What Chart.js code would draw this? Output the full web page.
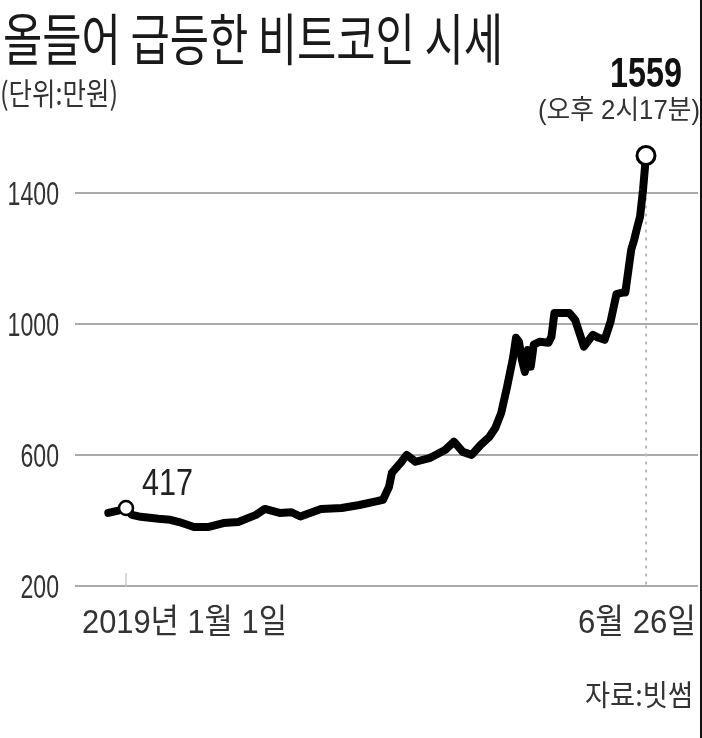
<!DOCTYPE html>
<html>
<head>
<meta charset="utf-8">
<script src="https://cdn.jsdelivr.net/npm/chart.js@4"></script>
<style>
  html, body { margin: 0; padding: 0; background: #fff; }
  #wrap { position: relative; width: 702px; height: 738px; }
  #edge { position: absolute; left: 700px; top: 0; width: 2px; height: 738px; background: #111; }
</style>
</head>
<body>
<div id="wrap">
  <canvas id="chart" width="702" height="738"></canvas>
  <div id="edge"></div>
</div>
<script>
// days counted from 2019-01-01, price in 만원
var days = [-6, -3, 0, 2, 5, 8, 11, 15, 18, 21, 23, 28, 33, 38, 44, 47, 52, 56, 59, 66,
    73, 79, 85, 87, 89, 90, 93, 95, 98, 103, 108, 111, 114, 117, 120, 123, 125, 127, 129, 131,
    132, 133, 134, 135, 136, 137, 138, 140, 143, 144, 145, 147, 150, 152, 154, 155, 158, 160, 162, 164,
    166, 168, 169, 171, 172, 173, 174, 175, 176];
var prices = [423, 429, 438, 417, 411, 408, 405, 402, 395, 386, 380, 380, 392, 395, 417, 435, 423, 425, 412, 435,
    438, 447, 459, 463, 502, 545, 576, 600, 579, 591, 615, 640, 609, 600, 630, 655, 682, 728, 808, 896,
    957, 945, 890, 853, 920, 869, 936, 945, 942, 960, 1033, 1033, 1033, 1012, 957, 930, 966, 957, 951, 1006,
    1090, 1095, 1095, 1226, 1256, 1293, 1327, 1409, 1513];

var yTicks = [200, 600, 1000, 1400];
var xTickDays = [0, 176];
var xTickLabels = ['2019년 1월 1일', '6월 26일'];
var startLabel = '417';
var endLabel = '1559';
var endNote = '(오후 2시17분)';

var title = '올들어 급등한 비트코인 시세';
var unitText = '(단위:만원)';
var sourceText = '자료:빗썸';

var LAT = '"Liberation Sans", "Noto Sans CJK KR", sans-serif';
var KR = '"Noto Sans CJK KR", sans-serif';

var points = days.map(function (d, i) { return { x: d, y: prices[i] }; });
var startIdx = days.indexOf(xTickDays[0]);
var endIdx = days.length - 1;

// draws text squeezed horizontally to a given width
function fitText(ctx, text, x, y, font, width, align, color) {
    ctx.save();
    ctx.font = font;
    ctx.fillStyle = color || '#333';
    ctx.textBaseline = 'alphabetic';
    ctx.textAlign = 'left';
    var w = ctx.measureText(text).width;
    var sx = width / w;
    ctx.translate(x, y);
    ctx.scale(sx, 1);
    var off = align === 'right' ? -w : (align === 'center' ? -w / 2 : 0);
    ctx.fillText(text, off, 0);
    ctx.restore();
}

function squeezeText(ctx, text, x, y, font, sx, align, color) {
    ctx.save();
    ctx.font = font;
    ctx.fillStyle = color || '#333';
    ctx.textBaseline = 'alphabetic';
    ctx.textAlign = align;
    ctx.translate(x, y);
    ctx.scale(sx, 1);
    ctx.fillText(text, 0, 0);
    ctx.restore();
}

var decor = {
    id: 'decor',
    beforeDatasetsDraw: function (chart) {
        var ctx = chart.ctx, xs = chart.scales.x, ys = chart.scales.y, area = chart.chartArea;
        // dotted drop line at the last point
        var ex = xs.getPixelForValue(days[endIdx]);
        var ey = ys.getPixelForValue(prices[endIdx]);
        ctx.save();
        ctx.strokeStyle = '#bbb';
        ctx.lineWidth = 2;
        ctx.setLineDash([3, 5]);
        ctx.beginPath();
        ctx.moveTo(ex, ey + 10);
        ctx.lineTo(ex, area.bottom);
        ctx.stroke();
        ctx.setLineDash([]);
        // small tick at Jan 1
        var sx = xs.getPixelForValue(xTickDays[0]);
        ctx.strokeStyle = '#ccc';
        ctx.lineWidth = 1.5;
        ctx.beginPath();
        ctx.moveTo(sx, area.bottom - 13);
        ctx.lineTo(sx, area.bottom);
        ctx.stroke();
        ctx.restore();
    },
    afterDraw: function (chart) {
        var ctx = chart.ctx, xs = chart.scales.x, ys = chart.scales.y, area = chart.chartArea;

        fitText(ctx, title, 3, 60, '400 56px ' + KR, 500, 'left', '#1a1a1a');
        fitText(ctx, unitText, 0, 105, '400 31px ' + KR, 118, 'left', '#333');

        // y tick labels
        yTicks.forEach(function (v) {
            squeezeText(ctx, String(v), area.left - 16, ys.getPixelForValue(v) + 12, '400 34px ' + LAT, 0.68, 'right', '#333');
        });

        // x labels
        var x0 = xs.getPixelForValue(xTickDays[0]);
        fitText(ctx, xTickLabels[0], x0 - 44, area.bottom + 47, '400 34px ' + LAT, 205, 'left', '#333');
        fitText(ctx, xTickLabels[1], area.right - 2, area.bottom + 47, '400 34px ' + LAT, 118, 'right', '#333');

        // point notes
        var sxp = xs.getPixelForValue(days[startIdx]);
        var syp = ys.getPixelForValue(prices[startIdx]);
        fitText(ctx, startLabel, sxp + 16, syp - 13, '400 36px ' + LAT, 51, 'left', '#222');

        var exp = xs.getPixelForValue(days[endIdx]);
        var eyp = ys.getPixelForValue(prices[endIdx]);
        fitText(ctx, endLabel, exp + 36, eyp - 69, '700 42px ' + LAT, 72, 'right', '#111');
        fitText(ctx, endNote, exp - 108, eyp - 37, '400 27px ' + LAT, 162, 'left', '#333');

        fitText(ctx, sourceText, 693, 706, '400 29px ' + KR, 108, 'right', '#333');
    }
};

var ctx = document.getElementById('chart').getContext('2d');
var chart = new Chart(ctx, {
    type: 'line',
    data: {
        datasets: [{
            data: points,
            borderColor: '#000',
            borderWidth: 8,
            borderJoinStyle: 'round',
            borderCapStyle: 'round',
            tension: 0,
            pointRadius: function (c) {
                if (c.dataIndex === startIdx) return 7;
                if (c.dataIndex === endIdx) return 9;
                return 0;
            },
            pointBorderWidth: function (c) { return c.dataIndex === endIdx ? 3 : 2.5; },
            pointBackgroundColor: '#fff',
            pointBorderColor: '#000',
            pointHoverRadius: 0
        }]
    },
    options: {
        responsive: false,
        animation: false,
        devicePixelRatio: 1,
        layout: { autoPadding: false, padding: { top: 127, right: 4, bottom: 152, left: 0 } },
        plugins: { legend: { display: false }, tooltip: { enabled: false } },
        scales: {
            x: {
                type: 'linear',
                display: false,
                min: -17.26,
                max: 193.6
            },
            y: {
                min: 200,
                max: 1600,
                afterBuildTicks: function (s) { s.ticks = yTicks.map(function (v) { return { value: v }; }); },
                afterFit: function (s) { s.width = 75; },
                ticks: { display: false },
                border: { display: false },
                grid: { color: '#aaa', lineWidth: 2, drawTicks: false }
            }
        }
    },
    plugins: [decor]
});
</script>
</body>
</html>
